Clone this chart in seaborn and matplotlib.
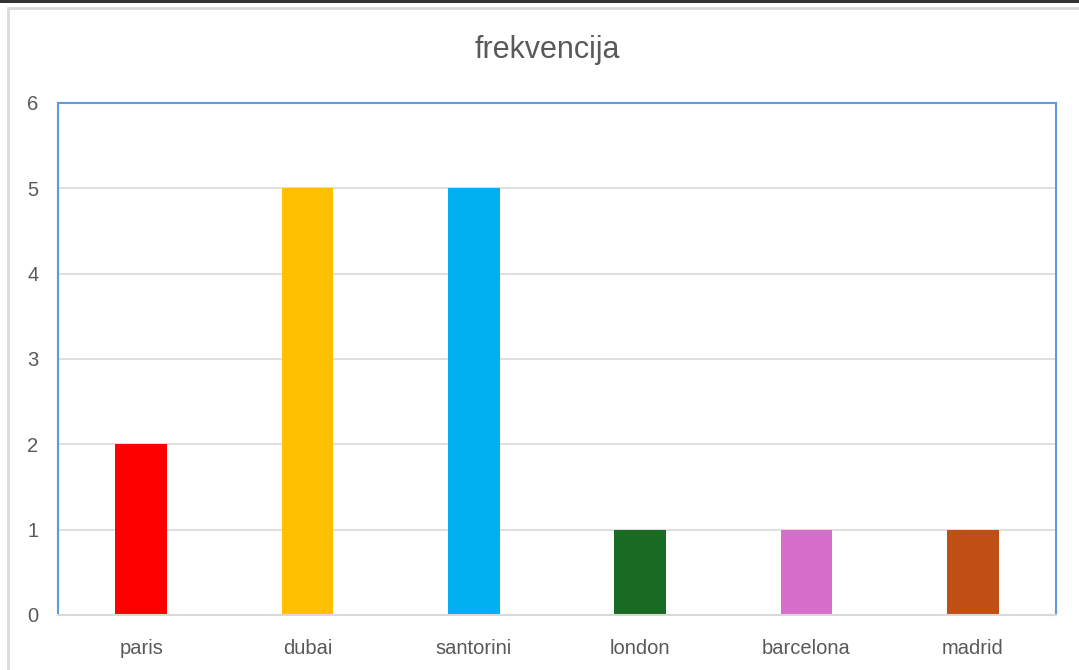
import matplotlib
matplotlib.use("Agg")
import matplotlib.pyplot as plt
import seaborn as sns
import pandas as pd
from matplotlib.patches import Rectangle

cities = ["paris", "dubai", "santorini", "london", "barcelona", "madrid"]
counts = [2, 5, 5, 1, 1, 1]
colors = ["#FF0000", "#FFC000", "#00B0F0", "#196B24", "#D86ECC", "#C04F15"]

sns.set_theme(style="white")
plt.rcParams['font.family'] = ['Liberation Sans', 'DejaVu Sans']

data = pd.DataFrame({"city": cities, "count": counts})

fig = plt.figure(figsize=(10.79, 6.70), dpi=100)
ax = fig.add_axes([58 / 1079, 1 - 615 / 670, (1056 - 58) / 1079, (615 - 103) / 670])

# chart frame like the spreadsheet export
fig.patches.append(Rectangle((8 / 1079, -0.01), 1.02, 1 - 8 / 670 + 0.01,
                             transform=fig.transFigure, fill=False,
                             edgecolor="#d9d9d9", linewidth=2, zorder=0))
fig.patches.append(Rectangle((0, 1 - 3 / 670), 1, 3 / 670, transform=fig.transFigure,
                             facecolor="#333333", edgecolor="none"))

sns.barplot(data=data, x="city", y="count", hue="city", palette=colors,
            width=0.31, legend=False, ax=ax, saturation=1, linewidth=0)

ax.set_ylim(0, 6)
ax.set_xlim(-0.5, len(cities) - 0.5)
ax.set_yticks(range(7))
ax.yaxis.grid(True, color="#d9d9d9", linewidth=1.2)
ax.set_axisbelow(True)
ax.set_xlabel("")
ax.set_ylabel("")
ax.tick_params(axis="both", length=0, labelsize=14.5, labelcolor="#595959")
ax.tick_params(axis="y", pad=14)
ax.tick_params(axis="x", pad=17)

for side in ["left", "top", "right"]:
    ax.spines[side].set_color("#5b9bdf")
    ax.spines[side].set_linewidth(1.5)
ax.spines["bottom"].set_color("#d9d9d9")
ax.spines["bottom"].set_linewidth(1.5)

fig.text(547 / 1079, 1 - 50 / 670, "frekvencija", ha="center", va="center",
         fontsize=22, color="#595959")

fig.savefig("out.png", dpi=100)
